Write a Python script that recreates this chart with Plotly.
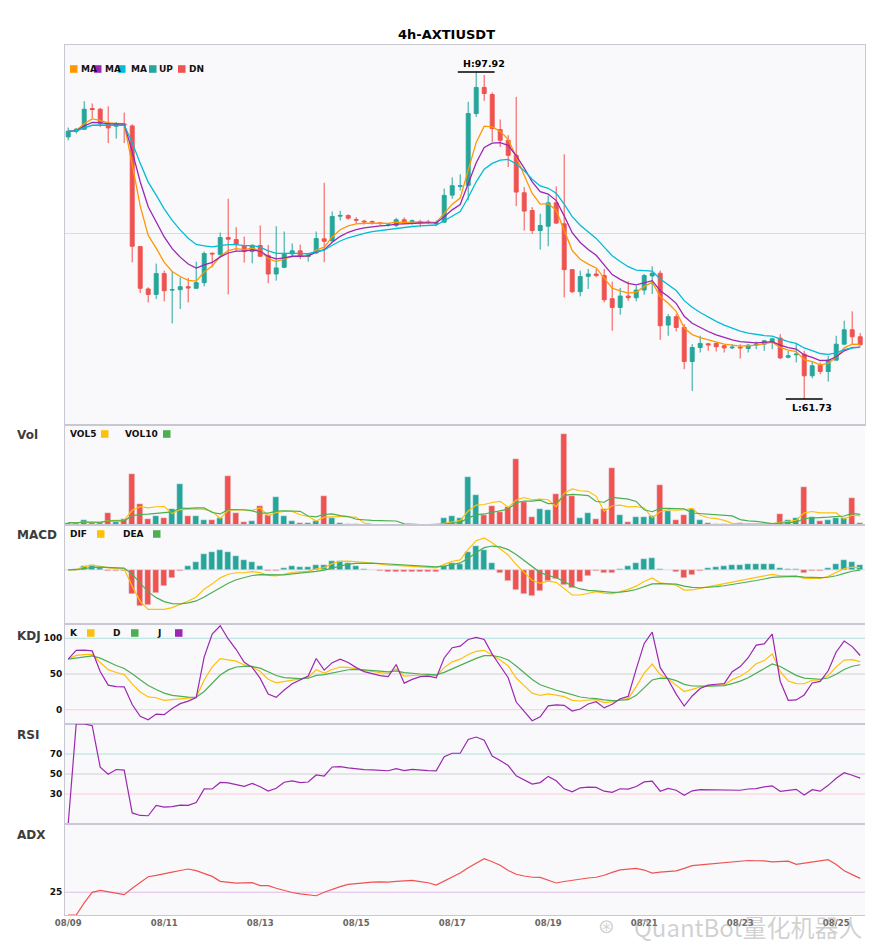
import numpy as np
import pandas as pd
import plotly.graph_objects as go
from plotly.subplots import make_subplots

# ---- dados (candles 4h, 08/09 -> 08/25) ----
opens = [90.74, 91.37, 91.59, 93.89, 93.81, 92.29, 91.92, 92.18, 91.96, 78.60,
         73.91, 73.31, 75.61, 73.79, 73.83, 74.16, 73.98, 74.61, 77.86, 77.75,
         79.60, 79.38, 78.72, 78.05, 78.72, 77.61, 75.57, 76.31, 77.79, 78.13,
         77.50, 77.90, 79.46, 79.23, 81.97, 82.05, 81.60, 81.42, 81.38, 81.23,
         81.08, 80.94, 81.57, 81.38, 81.38, 81.34, 81.16, 81.31, 84.30, 85.27,
         85.38, 93.33, 96.22, 95.44, 91.56, 90.37, 88.71, 84.56, 82.60, 80.38,
         80.86, 83.45, 81.12, 76.05, 73.61, 75.31, 75.57, 75.39, 72.83, 71.87,
         73.13, 72.94, 73.79, 75.35, 75.65, 69.91, 70.84, 69.65, 65.88, 67.43,
         67.84, 67.88, 67.62, 67.39, 67.47, 67.32, 67.69, 67.80, 68.06, 68.47,
         66.36, 66.62, 66.69, 64.30, 65.47, 64.77, 66.03, 67.80, 69.39, 68.62]
highs = [91.78, 91.74, 94.70, 94.44, 93.96, 94.14, 92.40, 93.44, 92.15, 78.64,
         74.09, 76.72, 75.94, 75.83, 75.20, 75.13, 76.94, 78.05, 77.94, 80.16,
         83.90, 80.75, 79.71, 78.83, 80.93, 78.79, 80.86, 80.27, 78.94, 78.83,
         77.90, 80.27, 85.67, 82.49, 82.57, 82.16, 81.86, 81.57, 81.49, 81.27,
         81.20, 81.79, 81.82, 81.60, 81.57, 81.57, 81.49, 85.04, 86.27, 86.61,
         94.63, 97.92, 97.60, 95.66, 92.67, 90.93, 95.18, 85.19, 82.97, 82.23,
         84.27, 85.27, 88.82, 76.05, 75.94, 76.13, 76.13, 76.13, 74.72, 74.02,
         74.76, 74.28, 75.57, 76.42, 75.94, 71.13, 71.13, 70.02, 67.80, 68.73,
         67.95, 67.99, 67.73, 67.80, 67.80, 67.80, 68.09, 68.28, 68.47, 68.91,
         67.06, 67.91, 67.06, 65.95, 65.77, 66.51, 68.73, 70.39, 71.43, 69.02]
lows = [90.37, 91.11, 91.55, 92.78, 91.85, 90.07, 90.56, 90.07, 76.86, 73.46,
        72.42, 72.80, 72.54, 70.09, 71.69, 72.42, 73.98, 74.20, 76.31, 77.42,
        73.31, 78.09, 76.83, 76.75, 77.49, 74.54, 74.83, 76.20, 77.42, 77.20,
        76.94, 77.79, 76.87, 79.16, 81.49, 81.57, 81.12, 81.05, 81.05, 80.97,
        80.83, 80.75, 81.12, 81.05, 80.75, 81.12, 80.86, 81.23, 83.90, 84.82,
        83.71, 92.96, 94.74, 90.19, 89.63, 87.41, 83.08, 80.38, 80.01, 78.27,
        78.64, 81.12, 72.98, 73.46, 73.09, 73.91, 75.20, 72.43, 69.28, 71.06,
        72.61, 72.54, 73.28, 73.35, 68.28, 68.73, 69.21, 65.03, 62.62, 66.88,
        67.06, 66.99, 66.88, 67.25, 66.21, 66.88, 67.25, 67.06, 67.25, 66.14,
        66.21, 65.77, 61.73, 64.03, 64.47, 63.66, 66.03, 67.73, 67.80, 67.62]
closes = [91.37, 91.59, 93.81, 93.77, 92.22, 91.74, 92.11, 92.07, 78.64, 73.98,
          73.31, 75.61, 73.72, 73.83, 74.16, 74.02, 74.61, 77.83, 77.79, 79.60,
          79.42, 78.86, 78.05, 78.75, 77.53, 75.57, 76.24, 77.79, 78.13, 77.53,
          77.68, 79.49, 79.19, 81.94, 82.05, 81.75, 81.53, 81.34, 81.31, 81.16,
          81.12, 81.57, 81.23, 81.45, 81.31, 81.27, 81.23, 84.27, 85.34, 85.34,
          93.33, 96.22, 95.55, 91.67, 90.37, 88.71, 84.64, 82.53, 80.38, 80.94,
          83.45, 81.20, 76.05, 73.61, 75.28, 75.57, 75.39, 72.72, 71.87, 73.13,
          72.94, 73.79, 75.39, 75.65, 69.84, 70.84, 69.65, 65.88, 67.43, 67.88,
          67.72, 67.51, 67.39, 67.47, 67.39, 67.69, 67.80, 68.17, 68.39, 66.28,
          66.51, 66.69, 64.30, 65.40, 64.78, 66.03, 67.80, 69.39, 68.62, 67.73]
volumes = [7, 6, 14, 6, 6, 35, 10, 17, 152, 62,
           17, 26, 20, 47, 122, 26, 26, 14, 14, 20,
           146, 35, 8, 11, 56, 29, 83, 26, 11, 5,
           5, 11, 86, 20, 5, 2, 2, 1, 1, 1,
           1, 1, 1, 1, 1, 1, 1, 20, 26, 20,
           143, 89, 29, 56, 38, 53, 197, 68, 23, 47,
           44, 92, 272, 86, 20, 35, 17, 47, 170, 29,
           8, 23, 23, 26, 119, 41, 14, 29, 47, 14,
           5, 2, 2, 1, 7, 2, 2, 2, 3, 32,
           14, 20, 113, 23, 11, 14, 20, 20, 80, 5]

tick_pos = [0, 12, 24, 36, 48, 60, 72, 84, 96]
tick_txt = ['08/09', '08/11', '08/13', '08/15', '08/17', '08/19', '08/21', '08/23', '08/25']

UP = '#26A69A'
DN = '#EF5350'
YEL = '#FFC107'
GRN = '#4CAF50'
PUR = '#9C27B0'
FONT = 'DejaVu Sans'

df = pd.DataFrame({'o': opens, 'h': highs, 'l': lows, 'c': closes, 'v': volumes})
x = np.arange(len(df))
cores = [UP if c >= o else DN for o, c in zip(df.o, df.c)]

## medias
ema5 = df.c.ewm(span=5, adjust=False).mean()
ema8 = df.c.ewm(span=8, adjust=False).mean()
ema13 = df.c.ewm(span=13, adjust=False).mean()
vol5 = df.v.rolling(5, min_periods=1).mean()
vol10 = df.v.rolling(10, min_periods=1).mean()

## macd
dif = ema5 - ema13
dea = dif.ewm(span=5, adjust=False).mean()
hist = 2 * (dif - dea)

## kdj
llv = df.l.rolling(9, min_periods=1).min()
hhv = df.h.rolling(9, min_periods=1).max()
rsv = (df.c - llv) / (hhv - llv) * 100
k = rsv.ewm(com=2, adjust=False).mean()
d = k.ewm(com=2, adjust=False).mean()
j = 3 * k - 2 * d

## rsi
delta = df.c.diff()
ganho = delta.clip(lower=0).ewm(com=13).mean()
perda = (-delta.clip(upper=0)).ewm(com=13).mean()
rsi = (100 * ganho / (ganho + perda)).fillna(0)

## adx
pc = df.c.shift()
tr = pd.concat([df.h - df.l, (df.h - pc).abs(), (df.l - pc).abs()], axis=1).max(axis=1)
up = df.h.diff()
dn = -df.l.diff()
pdm = pd.Series(np.where((up > dn) & (up > 0), up, 0.0))
mdm = pd.Series(np.where((dn > up) & (dn > 0), dn, 0.0))
atr = tr.ewm(span=14, adjust=False).mean()
pdi = 100 * pdm.ewm(span=14, adjust=False).mean() / atr
mdi = 100 * mdm.ewm(span=14, adjust=False).mean() / atr
dx = (100 * (pdi - mdi).abs() / (pdi + mdi)).fillna(0)
adx = dx.ewm(span=14, adjust=False).mean()

fig = make_subplots(rows=6, cols=1, shared_xaxes=True, vertical_spacing=0,
                    row_heights=[380, 100, 99, 100, 100, 91])

fig.add_trace(go.Candlestick(x=x, open=df.o, high=df.h, low=df.l, close=df.c,
                             increasing=dict(line=dict(color=UP, width=1), fillcolor=UP),
                             decreasing=dict(line=dict(color=DN, width=1), fillcolor=DN),
                             name='k'), row=1, col=1)
for s, cor in [(ema5, '#FF9800'), (ema8, PUR), (ema13, '#00BCD4')]:
  fig.add_trace(go.Scatter(x=x, y=s, mode='lines', line=dict(color=cor, width=1.3)), row=1, col=1)

fig.add_trace(go.Bar(x=x, y=df.v, marker_color=cores, width=0.72), row=2, col=1)
fig.add_trace(go.Scatter(x=x, y=vol5, mode='lines', line=dict(color=YEL, width=1.2)), row=2, col=1)
fig.add_trace(go.Scatter(x=x, y=vol10, mode='lines', line=dict(color=GRN, width=1.2)), row=2, col=1)

fig.add_trace(go.Bar(x=x, y=hist, marker_color=[UP if h >= 0 else DN for h in hist], width=0.72), row=3, col=1)
fig.add_trace(go.Scatter(x=x, y=dif, mode='lines', line=dict(color=YEL, width=1.2)), row=3, col=1)
fig.add_trace(go.Scatter(x=x, y=dea, mode='lines', line=dict(color=GRN, width=1.2)), row=3, col=1)

fig.add_trace(go.Scatter(x=x, y=k, mode='lines', line=dict(color=YEL, width=1.2)), row=4, col=1)
fig.add_trace(go.Scatter(x=x, y=d, mode='lines', line=dict(color=GRN, width=1.2)), row=4, col=1)
fig.add_trace(go.Scatter(x=x, y=j, mode='lines', line=dict(color=PUR, width=1.2)), row=4, col=1)

fig.add_trace(go.Scatter(x=x, y=rsi, mode='lines', line=dict(color=PUR, width=1.2)), row=5, col=1)
fig.add_trace(go.Scatter(x=x, y=adx, mode='lines', line=dict(color=DN, width=1.2)), row=6, col=1)

# linhas de referencia
for yv, cor, r in [(100, '#B2DFDB', 4), (50, '#D0D0D0', 4), (0, '#FFCDD2', 4),
                   (70, '#B2DFDB', 5), (50, '#D0D0D0', 5), (30, '#FFCDD2', 5),
                   (25, '#E1BEE7', 6), (0, '#DDDDDD', 3)]:
  fig.add_hline(y=yv, line=dict(color=cor, width=1), layer='below', row=r, col=1)

# maxima / minima
ih = int(df.h.idxmax())
il = int(df.l.idxmin())
fig.add_shape(type='line', x0=ih - 2.3, x1=ih + 2.3, y0=df.h[ih], y1=df.h[ih],
              line=dict(color='black', width=1.5), row=1, col=1)
fig.add_shape(type='line', x0=il - 2.3, x1=il + 2.3, y0=df.l[il], y1=df.l[il],
              line=dict(color='black', width=1.5), row=1, col=1)
fig.add_annotation(x=ih, y=df.h[ih], text='H:%.2f' % df.h[ih], showarrow=False, yanchor='bottom',
                   xanchor='center', yshift=1, xshift=8,
                   font=dict(family=FONT, size=9.5, color='black', weight='bold'), row=1, col=1)
fig.add_annotation(x=il, y=df.l[il], text='L:%.2f' % df.l[il], showarrow=False, yanchor='top',
                   xanchor='center', yshift=-1, xshift=8,
                   font=dict(family=FONT, size=9.5, color='black', weight='bold'), row=1, col=1)

# conversao pixel da pagina -> paper (area de plot 65..865 x 45..915)
def px(v): return (v - 65) / 800.0
def py(v): return (915 - v) / 870.0

def quadrado(x0, y0, cor):
  fig.add_shape(type='rect', xref='paper', yref='paper', x0=px(x0), x1=px(x0 + 7.5),
                y0=py(y0 + 3.8), y1=py(y0 - 3.8), fillcolor=cor, line=dict(width=0))

def texto(x0, y0, t, size=9, cor='#111'):
  fig.add_annotation(xref='paper', yref='paper', x=px(x0), y=py(y0), text=t, showarrow=False,
                     xanchor='left', yanchor='middle',
                     font=dict(family=FONT, size=size, color=cor, weight='bold'))

# legendas
for tx in [81, 105, 131]:
  texto(tx - 2, 69, 'MA')
for sx, cor in [(70, '#FF9800'), (94, PUR), (118, '#00BCD4')]:
  quadrado(sx, 69, cor)
quadrado(149, 69, UP); texto(157, 69, 'UP')
quadrado(178, 69, DN); texto(187, 69, 'DN')

texto(68, 434, 'VOL5'); quadrado(101, 434, YEL)
texto(123, 434, 'VOL10'); quadrado(163, 434, GRN)
texto(68, 534, 'DIF'); quadrado(97, 534, YEL)
texto(121, 534, 'DEA'); quadrado(153, 534, GRN)
texto(68, 633, 'K'); quadrado(87, 633, YEL)
texto(111, 633, 'D'); quadrado(131, 633, GRN)
texto(155, 633, 'J'); quadrado(175, 633, PUR)

for t, yy in [('Vol', 435), ('MACD', 535), ('KDJ', 636), ('RSI', 735), ('ADX', 835)]:
  texto(15, yy, t, size=12, cor='#3c3c3c')

# marca d'agua
fig.add_annotation(xref='paper', yref='paper', x=px(606), y=py(926), text='⊛', showarrow=False,
                   xanchor='center', yanchor='middle',
                   font=dict(family=FONT, size=20, color='rgba(150,150,150,0.45)'))
fig.add_annotation(xref='paper', yref='paper', x=px(748), y=py(926), text='QuantBot量化机器人',
                   showarrow=False, xanchor='center', yanchor='middle',
                   font=dict(family='Noto Sans CJK SC', size=24, color='rgba(150,150,150,0.45)'))

eixo = '#C8C8D2'
fig.update_xaxes(range=[-0.4, 99.6], showgrid=False, zeroline=False, showline=True, mirror=True,
                 linecolor=eixo, linewidth=1, ticks='', rangeslider_visible=False)
fig.update_xaxes(tickvals=tick_pos, ticktext=tick_txt, showticklabels=True, ticklen=0,
                 tickfont=dict(family=FONT, size=8.5, color='#666', weight='bold'), row=6, col=1)
fig.update_yaxes(showgrid=False, zeroline=False, showline=True, linecolor=eixo, linewidth=1, ticks='',
                 tickfont=dict(family=FONT, size=9, color='#111', weight='bold'))
fig.update_yaxes(range=[58.85, 100.92], tickvals=[80], showticklabels=False, showgrid=True,
                 gridcolor='#DCDCE6', mirror=True, row=1, col=1)
fig.update_yaxes(range=[0, 300], showticklabels=False, row=2, col=1)
fig.update_yaxes(range=[-8.1, 6.7], showticklabels=False, row=3, col=1)
fig.update_yaxes(range=[-20, 120], tickvals=[0, 50, 100], row=4, col=1)
fig.update_yaxes(range=[0, 100], tickvals=[30, 50, 70], row=5, col=1)
fig.update_yaxes(range=[0, 100], tickvals=[25], row=6, col=1)

# a pagina tem margem de 8px no body: descontado nas margens
fig.update_layout(width=877, height=942, showlegend=False, paper_bgcolor='white', plot_bgcolor='#F9F9FC',
                  margin=dict(l=57, r=20, t=37, b=35), bargap=0,
                  title=dict(text='4h-AXTIUSDT', x=0.5, xanchor='center', y=1 - 26 / 942.0, yanchor='middle',
                             font=dict(family=FONT, size=13, color='black', weight='bold')))

fig.write_html('out.html')
